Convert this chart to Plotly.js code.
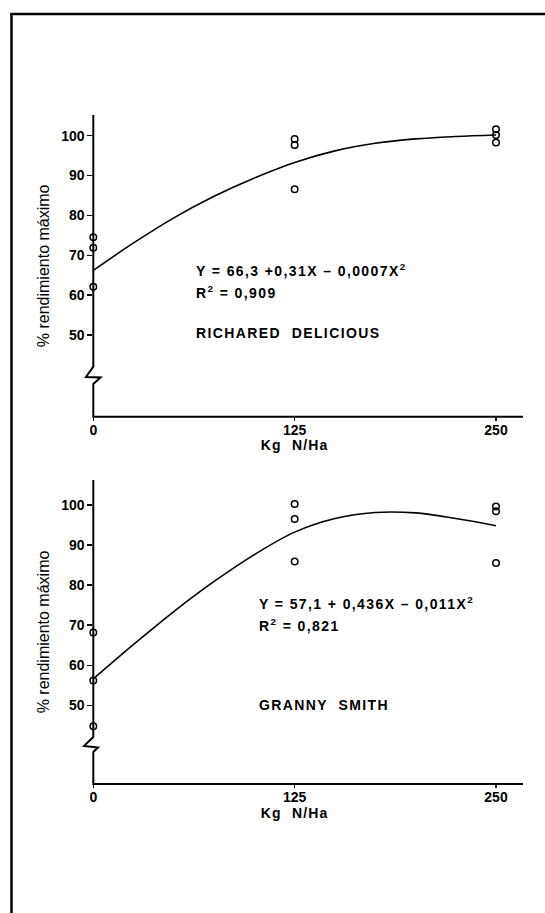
<!DOCTYPE html>
<html>
<head>
<meta charset="utf-8">
<script src="https://cdn.plot.ly/plotly-3.0.1.min.js"></script>
<style>
html,body{margin:0;padding:0;background:#fff;}
#chart{width:545px;height:913px;}
#chart .annotation-text{letter-spacing:1.4px;}
#chart .g-xtitle text, #chart .g-x2title text{letter-spacing:1.2px;}
</style>
</head>
<body>
<div id="chart"></div>
<script>
// ---- data ----
const xTickVals = [0, 125, 250];
const xTickText = ["0", "125", "250"];
const yTickVals = [50, 60, 70, 80, 90, 100];
const yTickText = ["50", "60", "70", "80", "90", "100"];

// Richared Delicious
const rdObsX = [0, 0, 0, 125, 125, 125, 250, 250, 250];
const rdObsY = [74.5, 71.9, 62.1, 99.2, 97.7, 86.6, 101.6, 100.2, 98.3];
const rdFitX = [0, 25, 50, 75, 100, 125, 150, 175, 200, 225, 250];
const rdFitY = [66.2, 73.1, 79.4, 84.8, 89.4, 93.3, 96.2, 98.1, 99.2, 99.8, 100.2];

// Granny Smith
const gsObsX = [0, 0, 0, 125, 125, 125, 250, 250, 250];
const gsObsY = [68.2, 56.2, 44.8, 100.2, 96.5, 85.9, 99.6, 98.4, 85.5];
const gsFitX = [0, 25, 50, 75, 100, 125, 150, 175, 200, 225, 250];
const gsFitY = [56.6, 65.2, 73.4, 80.9, 87.6, 93.2, 96.6, 98.1, 98.0, 96.6, 94.8];

const xTitle = "Kg  N/Ha";
const yTitle = "% rendimiento máximo";
const rdEq = "Y = 66,3 +0,31X – 0,0007X<sup>2</sup>";
const rdR2 = "R<sup>2</sup> = 0,909";
const rdName = "RICHARED  DELICIOUS";
const gsEq = "Y = 57,1 + 0,436X – 0,011X<sup>2</sup>";
const gsR2 = "R<sup>2</sup> = 0,821";
const gsName = "GRANNY  SMITH";

// ---- layout helpers (pixel -> paper) ----
const W = 545, H = 913;
const px = v => v / W;
const py = v => 1 - v / H;
const FONT = "Liberation Sans, Arial, sans-serif";

const axX0 = 93.3, axX250 = 496, axXEnd = 523;
const panelA = {yTop: 115, yBot: 416.7, rTop: 105.2, rBot: 29.5,
             zig: [[93.3,366.7],[86,377],[100.5,377.5],[93.3,384]]};
const panelB = {yTop: 480, yBot: 784, rTop: 106.2, rBot: 30.4,
             zig: [[93.3,737],[84,746],[98,747.5],[93.3,752]]};

function pathFor(p) {
  let s = `M ${px(axX0)} ${py(p.yTop)} `;
  p.zig.forEach(q => { s += `L ${px(q[0])} ${py(q[1])} `; });
  s += `L ${px(axX0)} ${py(p.yBot)} L ${px(axXEnd)} ${py(p.yBot)}`;
  return s;
}

function xa(anchor) {
  return {
    domain: [px(axX0), px(axX250)], range: [0, 250], anchor: anchor,
    tickvals: xTickVals, ticktext: xTickText, ticks: "outside", ticklen: 3,
    tickwidth: 1.5, tickcolor: "#000", showline: false, showgrid: false,
    zeroline: false, fixedrange: true, ticklabelstandoff: -3,
    tickfont: {family: FONT, size: 14, color: "#000", weight: "bold"},
    title: {text: xTitle, standoff: 2, font: {family: FONT, size: 14, color: "#000", weight: "bold"}},
    automargin: false
  };
}
function ya(anchor, p) {
  return {
    domain: [py(p.yBot), py(p.yTop)], range: [p.rBot, p.rTop], anchor: anchor,
    tickvals: yTickVals, ticktext: yTickText, ticks: "outside", ticklen: 5,
    tickwidth: 1.5, tickcolor: "#000", showline: false, showgrid: false,
    zeroline: false, fixedrange: true,
    tickfont: {family: FONT, size: 14, color: "#000", weight: "bold"},
    title: {text: yTitle, standoff: 7, font: {family: FONT, size: 16, color: "#000"}},
    automargin: false
  };
}

const marker = {symbol: "circle-open", size: 6.5, color: "#000", line: {width: 1.5, color: "#000"}};

const data = [
  {x: rdFitX, y: rdFitY, xaxis: "x", yaxis: "y", mode: "lines", line: {color: "#000", width: 1.6, shape: "spline"}, hoverinfo: "skip", showlegend: false},
  {x: rdObsX, y: rdObsY, xaxis: "x", yaxis: "y", mode: "markers", marker: marker, cliponaxis: false, showlegend: false},
  {x: gsFitX, y: gsFitY, xaxis: "x2", yaxis: "y2", mode: "lines", line: {color: "#000", width: 1.6, shape: "spline"}, hoverinfo: "skip", showlegend: false},
  {x: gsObsX, y: gsObsY, xaxis: "x2", yaxis: "y2", mode: "markers", marker: marker, cliponaxis: false, showlegend: false}
];

function ann(text, x, y) {
  return {text: text, xref: "paper", yref: "paper", x: px(x), y: py(y),
          xanchor: "left", yanchor: "middle", align: "left", showarrow: false,
          font: {family: FONT, size: 14, color: "#000", weight: "bold"}};
}

const layout = {
  width: W, height: H,
  margin: {l: 0, r: 0, t: 0, b: 0},
  paper_bgcolor: "#fff", plot_bgcolor: "rgba(0,0,0,0)",
  showlegend: false,
  xaxis: xa("y"), yaxis: ya("x", panelA),
  xaxis2: xa("y2"), yaxis2: ya("x2", panelB),
  shapes: [
    {type: "path", xref: "paper", yref: "paper", path: pathFor(panelA), line: {color: "#000", width: 2}},
    {type: "path", xref: "paper", yref: "paper", path: pathFor(panelB), line: {color: "#000", width: 2}},
    {type: "line", xref: "paper", yref: "paper", x0: px(11.5), x1: px(11.5), y0: py(13), y1: py(913), line: {color: "#000", width: 2.5}},
    {type: "line", xref: "paper", yref: "paper", x0: px(10.5), x1: px(545), y0: py(14), y1: py(14), line: {color: "#000", width: 2.5}}
  ],
  annotations: [
    ann(rdEq, 194, 270), ann(rdR2, 194, 291.5), ann(rdName, 194, 333),
    ann(gsEq, 256.5, 603), ann(gsR2, 256.5, 625), ann(gsName, 256.5, 705)
  ]
};

Plotly.newPlot("chart", data, layout, {displayModeBar: false, staticPlot: true});
</script>
</body>
</html>
